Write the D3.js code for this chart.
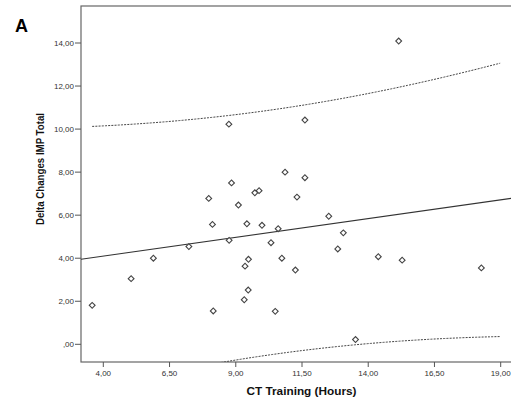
<!DOCTYPE html>
<html><head><meta charset="utf-8">
<script src="https://cdn.jsdelivr.net/npm/d3@7"></script>
<style>body{margin:0;background:#fff}svg{display:block}</style>
</head><body><script>
// CT training hours and change in IMP total per participant
const hours = [3.58, 5.05, 5.89, 7.23, 7.98, 8.12, 8.15, 8.75, 8.74, 8.84, 9.10, 9.32,
  9.35, 9.42, 9.47, 9.48, 9.72, 9.88, 9.99, 10.33, 10.49, 10.60, 10.74, 10.86,
  11.25, 11.31, 11.61, 11.61, 12.51, 12.85, 13.06, 13.52, 14.38, 15.15, 15.28, 18.27];
const impDelta = [1.81, 3.05, 4.00, 4.54, 6.78, 5.57, 1.55, 4.83, 10.23, 7.50, 6.47, 2.07,
  3.63, 5.60, 2.52, 3.95, 7.04, 7.14, 5.53, 4.72, 1.53, 5.37, 4.00, 8.00,
  3.45, 6.84, 7.74, 10.42, 5.95, 4.43, 5.18, 0.22, 4.07, 14.09, 3.91, 3.55];

const xTicks = [4, 6.5, 9, 11.5, 14, 16.5, 19];
const xTickLabels = ["4,00", "6,50", "9,00", "11,50", "14,00", "16,50", "19,00"];
const yTicks = [0, 2, 4, 6, 8, 10, 12, 14];
const yTickLabels = [",00", "2,00", "4,00", "6,00", "8,00", "10,00", "12,00", "14,00"];
const bandEnd = 19; // prediction interval drawn up to the last axis tick

const W = 511, H = 399;
const box = {left: 81, top: 6, right: 513, bottom: 362};

const x = d3.scaleLinear().domain([4, 19]).range([103.3, 500.7]);
const y = d3.scaleLinear().domain([0, 14]).range([344.3, 43]);

const svg = d3.select("body").append("svg").attr("width", W).attr("height", H)
  .style("font-family", "Liberation Sans, Arial, sans-serif");

// ordinary least squares fit with 95% individual prediction interval
const n = hours.length;
const mx = d3.mean(hours), my = d3.mean(impDelta);
let sxx = 0, sxy = 0;
hours.forEach((v, i) => { sxx += (v - mx) ** 2; sxy += (v - mx) * (impDelta[i] - my); });
const slope = sxy / sxx, intercept = my - slope * mx;
let sse = 0;
hours.forEach((v, i) => { sse += (impDelta[i] - (intercept + slope * v)) ** 2; });
const s = Math.sqrt(sse / (n - 2));
const tCrit = 2.032; // t(0.975, df = 34)
const predict = v => intercept + slope * v;
const half = v => tCrit * s * Math.sqrt(1 + 1 / n + (v - mx) ** 2 / sxx);

svg.append("defs").append("clipPath").attr("id", "plotClip")
  .append("rect").attr("x", box.left).attr("y", box.top)
  .attr("width", box.right - box.left).attr("height", box.bottom - box.top);

// frame
svg.append("rect").attr("x", box.left).attr("y", box.top)
  .attr("width", box.right - box.left).attr("height", box.bottom - box.top)
  .attr("fill", "none").attr("stroke", "#666").attr("stroke-width", 1.2);

const g = svg.append("g").attr("clip-path", "url(#plotClip)");

// fit line across the full plot width
const x0 = x.invert(box.left), x1 = x.invert(box.right);
g.append("line")
  .attr("x1", x(x0)).attr("y1", y(predict(x0)))
  .attr("x2", x(x1)).attr("y2", y(predict(x1)))
  .attr("stroke", "#333").attr("stroke-width", 1.1);

// prediction interval curves
const bandX = d3.range(d3.min(hours), bandEnd + 0.001, 0.1);
const curve = d3.line().x(d => x(d[0])).y(d => y(d[1]));
[1, -1].forEach(sign => {
  g.append("path")
    .attr("d", curve(bandX.map(v => [v, predict(v) + sign * half(v)])))
    .attr("fill", "none").attr("stroke", "#444").attr("stroke-width", 1)
    .attr("stroke-dasharray", "2,1.2");
});

// data points: open diamonds
const diamond = d3.symbol().type(d3.symbolSquare).size(17);
g.selectAll("path.pt").data(hours.map((v, i) => [v, impDelta[i]])).join("path")
  .attr("class", "pt")
  .attr("d", diamond)
  .attr("transform", d => `translate(${x(d[0])},${y(d[1])}) rotate(45)`)
  .attr("fill", "#fff").attr("stroke", "#444").attr("stroke-width", 1.1);

// y axis ticks and labels
const yAx = svg.append("g");
yTicks.forEach((t, i) => {
  yAx.append("line").attr("x1", box.left - 6).attr("x2", box.left)
    .attr("y1", y(t)).attr("y2", y(t)).attr("stroke", "#555");
  yAx.append("text").attr("x", box.left - 7).attr("y", y(t)).attr("dy", "0.35em")
    .attr("text-anchor", "end").attr("font-size", 8).attr("fill", "#333")
    .text(yTickLabels[i]);
});

// x axis ticks and labels
const xAx = svg.append("g");
xTicks.forEach((t, i) => {
  xAx.append("line").attr("y1", box.bottom).attr("y2", box.bottom + 5)
    .attr("x1", x(t)).attr("x2", x(t)).attr("stroke", "#555");
  xAx.append("text").attr("x", x(t)).attr("y", box.bottom + 14)
    .attr("text-anchor", "middle").attr("font-size", 8).attr("fill", "#333")
    .text(xTickLabels[i]);
});

// axis titles
svg.append("text").attr("x", 301.5).attr("y", 395).attr("text-anchor", "middle")
  .attr("font-size", 11.8).attr("font-weight", "bold").attr("fill", "#111")
  .text("CT Training (Hours)");
svg.append("text").attr("transform", "translate(44,169) rotate(-90)")
  .attr("text-anchor", "middle").attr("font-size", 11.5).attr("font-weight", "bold")
  .attr("textLength", 112).attr("lengthAdjust", "spacingAndGlyphs")
  .attr("fill", "#111").text("Delta Changes IMP Total");

// panel letter
svg.append("text").attr("x", 15).attr("y", 32).attr("font-size", 18)
  .attr("font-weight", "bold").attr("fill", "#000").text("A");
</script></body></html>
